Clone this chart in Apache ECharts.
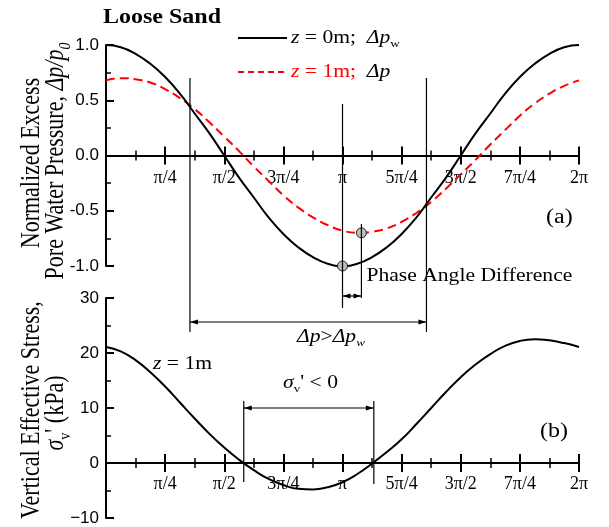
<!DOCTYPE html>
<html>
<head>
<meta charset="utf-8">
<script src="https://cdn.jsdelivr.net/npm/echarts@6/dist/echarts.min.js"></script>
<style>
  html, body { margin: 0; padding: 0; background: #fff; }
  #main { width: 609px; height: 527px; }
</style>
</head>
<body>
<div id="main"></div>
<script>
// phase angle in units of pi/4 (0 .. 8 = 2pi), read every pi/16
var phase = [0, 0.25, 0.5, 0.75, 1, 1.25, 1.5, 1.75, 2, 2.25, 2.5, 2.75, 3, 3.25, 3.5, 3.75, 4,
             4.25, 4.5, 4.75, 5, 5.25, 5.5, 5.75, 6, 6.25, 6.5, 6.75, 7, 7.25, 7.5, 7.75, 8];
// (a) z = 0m, dp_w / p0
var pwZ0 = [1.00, 0.98, 0.92, 0.83, 0.71, 0.56, 0.38, 0.20, 0.00, -0.20, -0.38, -0.56, -0.71, -0.83, -0.92, -0.98, -1.00,
            -0.98, -0.92, -0.83, -0.71, -0.56, -0.38, -0.20, 0.00, 0.20, 0.38, 0.56, 0.71, 0.83, 0.92, 0.98, 1.00];
// (a) z = 1m, dp / p0
var pZ1 = [0.68, 0.70, 0.69, 0.66, 0.60, 0.52, 0.42, 0.30, 0.17, 0.04, -0.10, -0.23, -0.36, -0.47, -0.56, -0.63, -0.68,
           -0.70, -0.69, -0.66, -0.60, -0.52, -0.42, -0.30, -0.17, -0.04, 0.10, 0.23, 0.36, 0.47, 0.56, 0.63, 0.68];
// (b) vertical effective stress at z = 1m (kPa)
var sigmaZ1 = [21.1, 20.3, 18.7, 16.5, 13.9, 11.0, 8.1, 5.3, 2.8, 0.6, -1.3, -2.9, -4.0, -4.7, -4.8, -4.4, -3.5,
               -2.0, -0.1, 2.0, 4.3, 7.1, 10.0, 12.9, 15.6, 17.9, 19.8, 21.3, 22.2, 22.5, 22.3, 21.8, 21.1];
var xTickLabels = ['', 'π/4', 'π/2', '3π/4', 'π', '5π/4', '3π/2', '7π/4', '2π'];
// minimum points marked with dots (phase, value)
var peakDots = [[4, -1.0], [4.32, -0.70]];
// phases where dp = dp_w, and where sigma'_v < 0 starts/ends
var crossX = [1.42, 5.42];
var negX = [2.33, 4.53];

var serif = '"Liberation Serif", "Times New Roman", serif';
var sans = '"Liberation Sans", Arial, sans-serif';
var red = '#ff0000';
var stretch = 1.2;   // the source figure is a little wider than tall

var grids = [
    { left: 106, top: 45, width: 473, height: 221, ymin: -1, ymax: 1 },
    { left: 106, top: 298, width: 473, height: 220, ymin: -10, ymax: 30 }
];

var chart = echarts.init(document.getElementById('main'));

function pairs(ys) {
    return phase.map(function (x, i) { return [x, ys[i]]; });
}

// two x axes per grid, both shifted onto y = 0: one with ticks down + labels, one with ticks up
function xAxes(gi, margin) {
    var gr = grids[gi];
    var span = gr.ymax - gr.ymin;
    var common = {
        gridIndex: gi, type: 'value', min: 0, max: 8, interval: 1,
        axisLine: { show: true, onZero: false, lineStyle: { color: '#000', width: 2 } },
        axisTick: { show: true, length: 9, lineStyle: { color: '#000', width: 2 } },
        minorTick: { show: true, splitNumber: 2, length: 5, lineStyle: { color: '#000', width: 1.5 } },
        splitLine: { show: false },
        minorSplitLine: { show: false }
    };
    var down = echarts.util.merge({
        position: 'bottom',
        offset: -gr.height * (0 - gr.ymin) / span,
        axisLabel: {
            show: true, margin: margin, color: '#000', fontFamily: serif, fontSize: 18,
            formatter: function (v) { return xTickLabels[Math.round(v)] || ''; }
        }
    }, common, true);
    var up = echarts.util.merge({
        position: 'top',
        offset: -gr.height * gr.ymax / span,
        axisLabel: { show: false }
    }, common, true);
    return [down, up];
}

function yAxis(gi, step, fmt) {
    return {
        gridIndex: gi, type: 'value', min: grids[gi].ymin, max: grids[gi].ymax, interval: step, position: 'left',
        axisLine: { show: true, onZero: false, lineStyle: { color: '#000', width: 2 } },
        axisTick: { show: true, inside: true, length: 8, lineStyle: { color: '#000', width: 2 } },
        minorTick: { show: true, splitNumber: 2, length: 5, lineStyle: { color: '#000', width: 1.5 } },
        axisLabel: { margin: 7, color: '#000', fontFamily: sans, fontSize: 17, formatter: fmt },
        splitLine: { show: false }
    };
}

chart.setOption({
    animation: false,
    backgroundColor: '#fff',
    grid: grids.map(function (gr) {
        return { left: gr.left, top: gr.top, width: gr.width, height: gr.height, outerBoundsMode: 'none', containLabel: false };
    }),
    xAxis: xAxes(0, 14).concat(xAxes(1, 12)),
    yAxis: [
        yAxis(0, 0.5, function (v) { return v.toFixed(1); }),
        yAxis(1, 10, function (v) { return v < 0 ? '\u2212' + Math.abs(v) : String(v); })
    ],
    series: [
        {
            type: 'line', xAxisIndex: 0, yAxisIndex: 0, data: pairs(pwZ0), smooth: true,
            showSymbol: false, lineStyle: { color: '#000', width: 2 }, z: 3
        },
        {
            type: 'line', xAxisIndex: 0, yAxisIndex: 0, data: pairs(pZ1), smooth: true,
            showSymbol: false, lineStyle: { color: red, width: 2, type: [9, 5] }, z: 2
        },
        {
            type: 'scatter', xAxisIndex: 0, yAxisIndex: 0, data: peakDots, symbolSize: 10,
            itemStyle: { color: '#bdbdbd', borderColor: '#222', borderWidth: 1, opacity: 1 }, z: 5
        },
        {
            type: 'line', xAxisIndex: 2, yAxisIndex: 1, data: pairs(sigmaZ1), smooth: true,
            showSymbol: false, lineStyle: { color: '#000', width: 2 }, z: 3
        }
    ]
});

// ---- annotations ----
function X(v) { return chart.convertToPixel({ xAxisIndex: 0 }, v); }

var ctx = document.createElement('canvas').getContext('2d');
function fontOf(s, size) {
    var px = s.sub ? Math.round(size * 0.62) : size;
    return (s.it ? 'italic ' : '') + (s.b ? 'bold ' : '') + px + 'px ' + serif;
}

var g = [];
function line(x1, y1, x2, y2, w, color, dash) {
    g.push({
        type: 'line', silent: true, z: 10,
        shape: { x1: x1, y1: y1, x2: x2, y2: y2 },
        style: { stroke: color || '#000', lineWidth: w || 1.2, lineDash: dash || null }
    });
}
function head(xTip, y, dir) {
    g.push({
        type: 'polygon', silent: true, z: 10,
        shape: { points: [[xTip, y], [xTip - dir * 8, y - 2.5], [xTip - dir * 8, y + 2.5]] },
        style: { fill: '#000' }
    });
}
function span(xa, xb, y) {
    line(xa, y, xb, y);
    head(xa, y, -1);
    head(xb, y, 1);
}
// text made of segments (italic / subscript pieces), laid out one after another
function text(x, y, segs, size, opts) {
    opts = opts || {};
    var rot = opts.rotation || 0;
    var along = rot ? 1 : stretch, across = rot ? stretch : 1;
    var ws = segs.map(function (s) { ctx.font = fontOf(s, size); return ctx.measureText(s.t).width; });
    var total = ws.reduce(function (a, b) { return a + b; }, 0);
    var u = opts.align === 'center' ? -total * along / 2 : 0;
    segs.forEach(function (s, i) {
        var v = s.sub ? size * 0.36 * across : 0;
        var px = rot ? x + v : x + u;
        var py = rot ? y - u : y + v;
        g.push({
            type: 'text', silent: true, z: 12, x: px, y: py, rotation: rot,
            scaleX: rot ? 1 : stretch, scaleY: rot ? stretch : 1,
            style: { text: s.t, font: fontOf(s, size), fill: s.c || '#000', align: 'left', verticalAlign: 'middle' }
        });
        u += ws[i] * along;
    });
}

// (a) annotations
var xc0 = X(crossX[0]), xc1 = X(crossX[1]);
line(xc0, 78, xc0, 332);
line(xc1, 78, xc1, 332);
span(xc0, xc1, 322);
var xPi = X(peakDots[0][0]), xLag = X(peakDots[1][0]);
line(xPi, 104, xPi, 308);
line(xLag, 224, xLag, 298);
span(xPi, xLag, 296);
text(xLag + 5, 276, [{ t: 'Phase Angle Difference' }], 18);
text(297, 337, [{ t: 'Δp', it: 1 }, { t: '>' }, { t: 'Δp', it: 1 }, { t: 'w', it: 1, sub: 1 }], 18);
text(546, 218, [{ t: '(a)' }], 20);

// (b) annotations
var xn0 = X(negX[0]), xn1 = X(negX[1]);
line(xn0, 401, xn0, 482);
line(xn1, 401, xn1, 484);
span(xn0, xn1, 408);
text(283, 383, [{ t: 'σ', it: 1 }, { t: 'v', sub: 1 }, { t: "' < 0" }], 18);
text(153, 364, [{ t: 'z', it: 1 }, { t: ' = 1m' }], 18);
text(540, 432, [{ t: '(b)' }], 20);

// legend
line(238, 38, 287, 38, 2, '#000');
line(238, 72, 287, 72, 2, red, [6, 4]);
text(291, 38, [{ t: 'z', it: 1 }, { t: ' = 0m;  ' }, { t: 'Δp', it: 1 }, { t: 'w', sub: 1 }], 18);
text(291, 72, [{ t: 'z', it: 1, c: red }, { t: ' = 1m;  ', c: red }, { t: 'Δp', it: 1 }], 18);

// title
text(103, 18, [{ t: 'Loose Sand', b: 1 }], 20);

// axis titles
var vert = { rotation: Math.PI / 2, align: 'center' };
text(32, 163, [{ t: 'Normalized Excess' }], 22, vert);
text(56, 161, [{ t: 'Pore Water Pressure, ' }, { t: 'Δp/p', it: 1 }, { t: '0', it: 1, sub: 1 }], 22, vert);
text(32, 410, [{ t: 'Vertical Effective Stress,' }], 22, vert);
text(56, 413, [{ t: 'σ', it: 1 }, { t: 'v', sub: 1 }, { t: "' (kPa)" }], 22, vert);

chart.setOption({ graphic: { elements: g } });
</script>
</body>
</html>
